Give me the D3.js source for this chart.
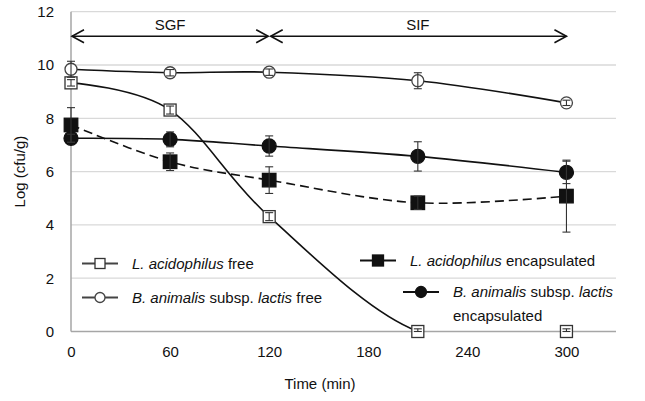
<!DOCTYPE html>
<html><head><meta charset="utf-8">
<script src="https://cdn.jsdelivr.net/npm/d3@7"></script>
<style>body{margin:0;background:#fff}svg{display:block;font-family:"Liberation Sans",Arial,sans-serif}</style>
</head><body>
<svg id="c" width="645" height="401"></svg>
<script>
const times = [0, 60, 120, 210, 300];
const xTicks = [0, 60, 120, 180, 240, 300];
const yTicks = [0, 2, 4, 6, 8, 10, 12];
const laFree = [9.33, 8.31, 4.31, 0, 0];
const laFreeErr = [0.12, 0.15, 0.15, 0.1, 0.1];
const baFree = [9.84, 9.71, 9.73, 9.41, 8.58];
const baFreeErr = [0.3, 0.12, 0.12, 0.3, 0.1];
const laEnc = [7.75, 6.37, 5.68, 4.83, 5.08];
const laEncErr = [0.65, 0.33, 0.5, 0.25, 1.35];
const baEnc = [7.25, 7.21, 6.96, 6.57, 5.97];
const baEncErr = [0.15, 0.28, 0.38, 0.55, 0.42];
const phases = [{label: "SGF", from: 0, to: 120}, {label: "SIF", from: 120, to: 300}];

const svg = d3.select("#c");
const x = d3.scaleLinear().domain([0, 330]).range([71, 616]);
const y = d3.scaleLinear().domain([0, 12]).range([331.5, 11.7]);

// gridlines
svg.append("g").selectAll("line").data(yTicks.filter(d => d > 0)).join("line")
  .attr("x1", x(0)).attr("x2", x(330)).attr("y1", d => y(d)).attr("y2", d => y(d))
  .attr("stroke", "#d9d9d9").attr("stroke-width", 1.3);
// axes lines
svg.append("line").attr("x1", x(0)).attr("x2", x(330)).attr("y1", y(0)).attr("y2", y(0)).attr("stroke", "#a6a6a6").attr("stroke-width", 1.5);
svg.append("line").attr("x1", x(0)).attr("x2", x(0)).attr("y1", y(0)).attr("y2", y(12)).attr("stroke", "#a6a6a6").attr("stroke-width", 1.5);

// tick labels
const yAxis = d3.axisLeft(y).tickValues(yTicks).tickSize(0).tickPadding(17);
const gy = svg.append("g").attr("transform", `translate(${x(0)},0)`).call(yAxis);
gy.select(".domain").remove();
gy.selectAll("text").attr("font-size", 15).attr("fill", "#111").attr("font-family", "Liberation Sans, Arial, sans-serif");
const xAxis = d3.axisBottom(x).tickValues(xTicks).tickSize(0).tickPadding(15);
const gx = svg.append("g").attr("transform", `translate(0,${y(0)})`).call(xAxis);
gx.select(".domain").remove();
gx.selectAll("text").attr("font-size", 15).attr("fill", "#111").attr("font-family", "Liberation Sans, Arial, sans-serif");

svg.append("text").attr("x", 320).attr("y", 389).attr("text-anchor", "middle").attr("font-size", 15).attr("fill", "#111").text("Time (min)");
svg.append("text").attr("transform", `translate(25,${(y(0)+y(12))/2}) rotate(-90)`).attr("text-anchor", "middle").attr("font-size", 15).attr("fill", "#111").text("Log (cfu/g)");

// phase arrows
const ay = y(11.08);
phases.forEach((p, i) => {
  const x1 = x(p.from) + (i === 1 ? 1.5 : 1), x2 = x(p.to) - (i === 0 ? 1 : 0);
  svg.append("line").attr("x1", x1).attr("x2", x2).attr("y1", ay).attr("y2", ay).attr("stroke", "#111").attr("stroke-width", 1.6);
  svg.append("path").attr("d", `M${x1+12},${ay-6.5}L${x1},${ay}L${x1+12},${ay+6.5}`).attr("fill", "none").attr("stroke", "#111").attr("stroke-width", 1.6);
  svg.append("path").attr("d", `M${x2-12},${ay-6.5}L${x2},${ay}L${x2-12},${ay+6.5}`).attr("fill", "none").attr("stroke", "#111").attr("stroke-width", 1.6);
  svg.append("text").attr("x", x((p.from + p.to) / 2)).attr("y", 29.5).attr("text-anchor", "middle").attr("font-size", 15).attr("fill", "#111").text(p.label);
});

// clip
svg.append("clipPath").attr("id", "clip").append("rect").attr("x", x(0)).attr("y", 0).attr("width", x(330) - x(0)).attr("height", y(0) + 0.6);

const line = d3.line().x(d => x(d[0])).y(d => y(d[1])).curve(d3.curveCardinal.tension(0));
const series = [
  {v: laFree, e: laFreeErr, dash: null, shape: "sq", fill: "#fff"},
  {v: baFree, e: baFreeErr, dash: null, shape: "ci", fill: "#fff"},
  {v: laEnc, e: laEncErr, dash: "9,5", shape: "sq", fill: "#111"},
  {v: baEnc, e: baEncErr, dash: null, shape: "ci", fill: "#111"}
];
const lines = svg.append("g").attr("clip-path", "url(#clip)");
series.forEach(s => {
  lines.append("path").attr("d", line(times.map((t, i) => [t, s.v[i]])))
    .attr("fill", "none").attr("stroke", "#111").attr("stroke-width", 1.6)
    .attr("stroke-dasharray", s.dash);
});
function marker(g, cx, cy, shape, fill, size) {
  if (shape === "sq") {
    g.append("rect").attr("x", cx - size/2).attr("y", cy - size/2).attr("width", size).attr("height", size)
      .attr("fill", fill).attr("stroke", fill === "#fff" ? "#333" : "#111").attr("stroke-width", 1.3);
  } else {
    g.append("circle").attr("cx", cx).attr("cy", cy).attr("r", size/2)
      .attr("fill", fill).attr("stroke", fill === "#fff" ? "#444" : "#111").attr("stroke-width", 1.3);
  }
}
series.forEach(s => {
  const g = svg.append("g");
  times.forEach((t, i) => {
    const sz = s.fill === "#fff" ? 12 : (s.shape === "sq" ? 13.5 : 14);
    marker(g, x(t), y(s.v[i]), s.shape, s.fill, sz);
  });
});
series.forEach(s => {
  const g = svg.append("g").attr("stroke", "#333").attr("stroke-width", 1.1);
  times.forEach((t, i) => {
    const cx = x(t), lo = y(Math.max(s.v[i] - s.e[i], 0)), hi = y(s.v[i] + s.e[i]);
    g.append("line").attr("x1", cx).attr("x2", cx).attr("y1", lo).attr("y2", hi);
    g.append("line").attr("x1", cx - 4).attr("x2", cx + 4).attr("y1", hi).attr("y2", hi);
    g.append("line").attr("x1", cx - 4).attr("x2", cx + 4).attr("y1", lo).attr("y2", lo);
  });
});

// legend
const legend = [
  {lines: [["i","L. acidophilus"],["n"," free"]], shape: "sq", fill: "#fff", lx: 82, y: 263.5},
  {lines: [["i","B. animalis"],["n"," subsp. "],["i","lactis"],["n"," free"]], shape: "ci", fill: "#fff", lx: 82, y: 297.5},
  {lines: [["i","L. acidophilus"],["n"," encapsulated"]], shape: "sq", fill: "#111", lx: 360, y: 260.5},
  {lines: [["i","B. animalis"],["n"," subsp. "],["i","lactis"]], shape: "ci", fill: "#111", lx: 403, y: 292, extra: "encapsulated"}
];
legend.forEach(l => {
  const g = svg.append("g");
  g.append("line").attr("x1", l.lx).attr("x2", l.lx + 36).attr("y1", l.y).attr("y2", l.y).attr("stroke", l.fill === "#fff" ? "#444" : "#111").attr("stroke-width", 1.8);
  marker(g, l.lx + 18, l.y, l.shape, l.fill, l.fill === "#fff" ? 10 : 11);
  const t = g.append("text").attr("x", l.lx + 50).attr("y", l.y + 5.3).attr("font-size", 15).attr("fill", "#111");
  l.lines.forEach(p => t.append("tspan").attr("font-style", p[0] === "i" ? "italic" : "normal").text(p[1]));
  if (l.extra) g.append("text").attr("x", l.lx + 50).attr("y", l.y + 28.5).attr("font-size", 15).attr("fill", "#111").text(l.extra);
});
</script>
</body></html>
